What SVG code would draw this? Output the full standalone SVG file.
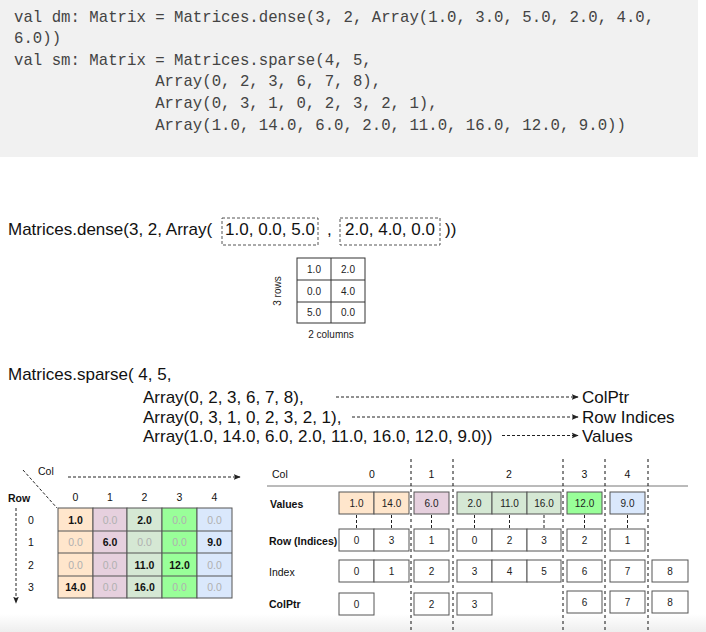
<svg xmlns="http://www.w3.org/2000/svg" width="706" height="632" viewBox="0 0 706 632">
<defs>
<style>
.code{font-family:"Liberation Mono","DejaVu Sans Mono",monospace;font-size:15.7px;fill:#444}
.big{font-family:"Liberation Sans",Arial,sans-serif;font-size:17px;fill:#111}
.sm{font-family:"Liberation Sans",Arial,sans-serif;font-size:10px;fill:#222}
.lbl{font-family:"Liberation Sans",Arial,sans-serif;font-size:10.5px;fill:#111}
.b{font-weight:bold}
.c{text-anchor:middle}
.z{fill:#b0b0b0;font-weight:normal}
.nz{fill:#111;font-weight:bold}
.cell{stroke:#555;stroke-width:1}
.dbox{fill:none;stroke:#555;stroke-width:1;stroke-dasharray:3 2}
.dash{fill:none;stroke:#222;stroke-width:1;stroke-dasharray:3 2}
.vdash{fill:none;stroke:#111;stroke-width:1;stroke-dasharray:3 3}
.c0{fill:#ffe6cc}.c1{fill:#e6d0de}.c2{fill:#d5e8d4}.c3{fill:#99ff99}.c4{fill:#dae8fc}.cw{fill:#fff}
</style>
<marker id="ah" viewBox="0 0 10 10" refX="9" refY="5" markerWidth="7" markerHeight="7" markerUnits="userSpaceOnUse" orient="auto">
<path d="M0,1 L10,5 L0,9 L2,5 Z" fill="#222"/>
</marker>
<linearGradient id="bg" x1="0" y1="0" x2="0" y2="1">
<stop offset="0" stop-color="#ffffff"/>
<stop offset="1" stop-color="#eeeeee"/>
</linearGradient>
</defs>
<rect x="0" y="0" width="706" height="632" fill="#fff"/>
<rect x="0" y="614" width="706" height="18" fill="url(#bg)"/>

<g id="code-block">
<rect x="0" y="0" width="698" height="157" fill="#f1f1f1"/>
<text class="code" x="14" y="22" xml:space="preserve">val dm: Matrix = Matrices.dense(3, 2, Array(1.0, 3.0, 5.0, 2.0, 4.0,</text>
<text class="code" x="14" y="43" xml:space="preserve">6.0))</text>
<text class="code" x="14" y="65" xml:space="preserve">val sm: Matrix = Matrices.sparse(4, 5,</text>
<text class="code" x="14" y="86" xml:space="preserve">               Array(0, 2, 3, 6, 7, 8),</text>
<text class="code" x="14" y="108" xml:space="preserve">               Array(0, 3, 1, 0, 2, 3, 2, 1),</text>
<text class="code" x="14" y="130" xml:space="preserve">               Array(1.0, 14.0, 6.0, 2.0, 11.0, 16.0, 12.0, 9.0))</text>
</g>

<g id="dense-call">
<text class="big" x="8" y="235">Matrices.dense(3, 2, Array(</text>
<rect class="dbox" x="222" y="218" width="96" height="27"/>
<text class="big c" x="270" y="235">1.0, 0.0, 5.0</text>
<text class="big" x="327" y="235">,</text>
<rect class="dbox" x="340" y="218" width="100" height="27"/>
<text class="big c" x="390" y="235">2.0, 4.0, 0.0</text>
<text class="big" x="445" y="235">))</text>
</g>

<g id="dense-grid">
<rect x="297" y="258" width="68" height="65" fill="#fff" stroke="#333"/>
<line x1="331" y1="258" x2="331" y2="323" stroke="#333"/>
<line x1="297" y1="280" x2="365" y2="280" stroke="#333"/>
<line x1="297" y1="302" x2="365" y2="302" stroke="#333"/>
<text class="sm c" x="314" y="272.5">1.0</text>
<text class="sm c" x="348" y="272.5">2.0</text>
<text class="sm c" x="314" y="294.5">0.0</text>
<text class="sm c" x="348" y="294.5">4.0</text>
<text class="sm c" x="314" y="316">5.0</text>
<text class="sm c" x="348" y="316">0.0</text>
<text class="sm c" transform="translate(281,291) rotate(-90)">3 rows</text>
<text class="sm c" x="331" y="338">2 columns</text>
</g>

<g id="sparse-call">
<text class="big" x="8" y="380">Matrices.sparse( 4, 5,</text>
<text class="big" x="143" y="403">Array(0, 2, 3, 6, 7, 8),</text>
<text class="big" x="143" y="423">Array(0, 3, 1, 0, 2, 3, 2, 1),</text>
<text class="big" x="143" y="442">Array(1.0, 14.0, 6.0, 2.0, 11.0, 16.0, 12.0, 9.0))</text>
<text class="big" x="582" y="403">ColPtr</text>
<text class="big" x="582" y="423">Row Indices</text>
<text class="big" x="582" y="442">Values</text>
</g>

<g id="sparse-matrix">
<rect class="cell c0" x="58" y="508" width="35" height="90"/>
<rect class="cell c1" x="93" y="508" width="34" height="90"/>
<rect class="cell c2" x="127" y="508" width="35" height="90"/>
<rect class="cell c3" x="162" y="508" width="35" height="90"/>
<rect class="cell c4" x="197" y="508" width="35" height="90"/>
<line x1="58" y1="531" x2="232" y2="531" stroke="#555"/>
<line x1="58" y1="553" x2="232" y2="553" stroke="#555"/>
<line x1="58" y1="576" x2="232" y2="576" stroke="#555"/>
<g class="lbl c">
<text x="75.5" y="501">0</text><text x="110" y="501">1</text><text x="144.5" y="501">2</text><text x="179.5" y="501">3</text><text x="214.5" y="501">4</text>
<text x="31" y="523.5">0</text><text x="31" y="546">1</text><text x="31" y="568.5">2</text><text x="31" y="591">3</text>
</g>
<text class="lbl b" x="8" y="502">Row</text>
<text class="lbl" x="38" y="475">Col</text>
<g class="lbl c">
<text class="nz" x="75.5" y="523.5">1.0</text><text class="z" x="110" y="523.5">0.0</text><text class="nz" x="144.5" y="523.5">2.0</text><text class="z" x="179.5" y="523.5">0.0</text><text class="z" x="214.5" y="523.5">0.0</text>
<text class="z" x="75.5" y="546">0.0</text><text class="nz" x="110" y="546">6.0</text><text class="z" x="144.5" y="546">0.0</text><text class="z" x="179.5" y="546">0.0</text><text class="nz" x="214.5" y="546">9.0</text>
<text class="z" x="75.5" y="568.5">0.0</text><text class="z" x="110" y="568.5">0.0</text><text class="nz" x="144.5" y="568.5">11.0</text><text class="nz" x="179.5" y="568.5">12.0</text><text class="z" x="214.5" y="568.5">0.0</text>
<text class="nz" x="75.5" y="591">14.0</text><text class="z" x="110" y="591">0.0</text><text class="nz" x="144.5" y="591">16.0</text><text class="z" x="179.5" y="591">0.0</text><text class="z" x="214.5" y="591">0.0</text>
</g>
</g>

<g id="csc-table">
<text class="lbl" x="272" y="478">Col</text>
<g class="lbl c">
<text x="372" y="478">0</text><text x="431.5" y="478">1</text><text x="509" y="478">2</text><text x="584.5" y="478">3</text><text x="627.5" y="478">4</text>
</g>
<line x1="267" y1="486" x2="688" y2="486" stroke="#777"/>
<text class="lbl b" x="270" y="508">Values</text>
<text class="lbl b" x="269" y="545">Row (Indices)</text>
<text class="lbl" x="269" y="576">Index</text>
<text class="lbl b" x="269" y="608">ColPtr</text>

<g id="values-row">
<rect class="cell c0" x="339" y="492" width="35" height="22"/><rect class="cell c0" x="374" y="492" width="35" height="22"/>
<rect class="cell c1" x="414" y="492" width="35" height="22"/>
<rect class="cell c2" x="457" y="492" width="35" height="22"/><rect class="cell c2" x="492" y="492" width="35" height="22"/><rect class="cell c2" x="527" y="492" width="34" height="22"/>
<rect class="cell c3" x="567" y="492" width="35" height="22"/>
<rect class="cell c4" x="610" y="492" width="35" height="22"/>
<g class="sm c">
<text x="356.5" y="507">1.0</text><text x="391.5" y="507">14.0</text><text x="431.5" y="507">6.0</text><text x="474.5" y="507">2.0</text><text x="509.5" y="507">11.0</text><text x="544" y="507">16.0</text><text x="584.5" y="507">12.0</text><text x="627.5" y="507">9.0</text>
</g>
</g>

<g id="rowidx-row">
<rect class="cell cw" x="339" y="529" width="35" height="22"/><rect class="cell cw" x="374" y="529" width="35" height="22"/>
<rect class="cell cw" x="414" y="529" width="35" height="22"/>
<rect class="cell cw" x="457" y="529" width="35" height="22"/><rect class="cell cw" x="492" y="529" width="35" height="22"/><rect class="cell cw" x="527" y="529" width="34" height="22"/>
<rect class="cell cw" x="567" y="529" width="35" height="22"/>
<rect class="cell cw" x="610" y="529" width="35" height="22"/>
<g class="sm c">
<text x="356.5" y="544">0</text><text x="391.5" y="544">3</text><text x="431.5" y="544">1</text><text x="474.5" y="544">0</text><text x="509.5" y="544">2</text><text x="544" y="544">3</text><text x="584.5" y="544">2</text><text x="627.5" y="544">1</text>
</g>
</g>

<g id="index-row">
<rect class="cell cw" x="339" y="560" width="35" height="22"/><rect class="cell cw" x="374" y="560" width="35" height="22"/>
<rect class="cell cw" x="414" y="560" width="35" height="22"/>
<rect class="cell cw" x="457" y="560" width="35" height="22"/><rect class="cell cw" x="492" y="560" width="35" height="22"/><rect class="cell cw" x="527" y="560" width="34" height="22"/>
<rect class="cell cw" x="567" y="560" width="35" height="22"/>
<rect class="cell cw" x="610" y="560" width="35" height="22"/>
<rect class="cell cw" x="652" y="560" width="36" height="22"/>
<g class="sm c">
<text x="356.5" y="575">0</text><text x="391.5" y="575">1</text><text x="431.5" y="575">2</text><text x="474.5" y="575">3</text><text x="509.5" y="575">4</text><text x="544" y="575">5</text><text x="584.5" y="575">6</text><text x="627.5" y="575">7</text><text x="670" y="575">8</text>
</g>
</g>

<g id="colptr-row">
<rect class="cell cw" x="339" y="593" width="35" height="22"/>
<rect class="cell cw" x="414" y="593" width="35" height="22"/>
<rect class="cell cw" x="457" y="593" width="35" height="22"/>
<rect class="cell cw" x="567" y="591" width="35" height="22"/>
<rect class="cell cw" x="610" y="591" width="35" height="22"/>
<rect class="cell cw" x="652" y="591" width="36" height="22"/>
<g class="sm c">
<text x="356.5" y="608">0</text><text x="431.5" y="608">2</text><text x="474.5" y="608">3</text><text x="584.5" y="606">6</text><text x="627.5" y="606">7</text><text x="670" y="606">8</text>
</g>
</g>
</g>

<g id="connectors">
<line class="dash" x1="336" y1="397" x2="578" y2="397" marker-end="url(#ah)"/>
<line class="dash" x1="352" y1="417" x2="578" y2="417" marker-end="url(#ah)"/>
<line class="dash" x1="502" y1="435.5" x2="578" y2="435.5" marker-end="url(#ah)"/>
<line class="dash" x1="68" y1="477" x2="240" y2="477" marker-end="url(#ah)"/>
<line class="dash" x1="16" y1="508" x2="16" y2="603" marker-end="url(#ah)"/>
<line class="dash" x1="23" y1="470" x2="57" y2="508"/>
<g class="vdash">
<line x1="411" y1="459" x2="411" y2="632"/>
<line x1="453" y1="459" x2="453" y2="632"/>
<line x1="563" y1="459" x2="563" y2="632"/>
<line x1="605" y1="459" x2="605" y2="632"/>
<line x1="648" y1="459" x2="648" y2="632"/>
</g>
<g class="dash" stroke-dasharray="2 2">
<line x1="356.5" y1="515" x2="356.5" y2="529"/>
<line x1="391.5" y1="515" x2="391.5" y2="529"/>
<line x1="431.5" y1="515" x2="431.5" y2="529"/>
<line x1="474.5" y1="515" x2="474.5" y2="529"/>
<line x1="509.5" y1="515" x2="509.5" y2="529"/>
<line x1="544" y1="515" x2="544" y2="529"/>
<line x1="584.5" y1="515" x2="584.5" y2="529"/>
<line x1="627.5" y1="515" x2="627.5" y2="529"/>
</g>
</g>
</svg>
